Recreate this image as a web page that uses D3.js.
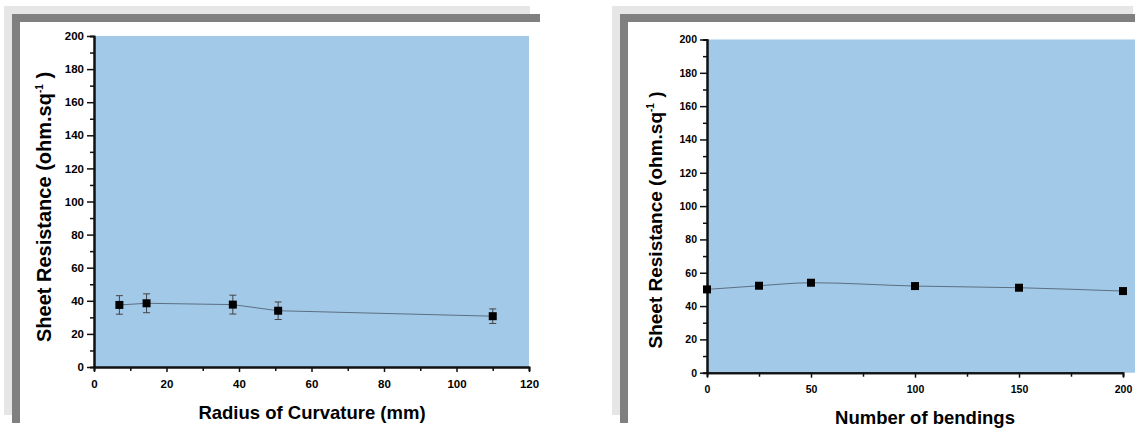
<html>
<head>
<script src="https://d3js.org/d3.v7.min.js"></script>
<style>
body{margin:0;background:#fff}
text{font-family:"Liberation Sans",Arial,sans-serif;font-weight:bold;fill:#000}
</style>
</head>
<body>
<script>
// left panel: radius of curvature
var radius = [7, 14.5, 38.3, 50.8, 110];
var resRadius = [37.5, 38.5, 37.7, 34, 30.7];
var errRadius = [5.6, 5.7, 5.7, 5.3, 4.4];

// right panel: number of bendings
var bendings = [0, 25, 50, 100, 150, 200];
var resBend = [50, 52.2, 54, 52, 51, 49];

var svg = d3.select('body').append('svg').attr('width', 1135).attr('height', 432);

function frame(x0, x1) {
  // light shadow then dark frame (top + left)
  svg.append('rect').attr('x', x0 - 8).attr('y', 6).attr('width', x1 - x0 + 6).attr('height', 8).attr('fill', '#e6e6e6');
  svg.append('rect').attr('x', x0 - 8).attr('y', 6).attr('width', 8).attr('height', 409).attr('fill', '#e6e6e6');
  svg.append('rect').attr('x', x0).attr('y', 14).attr('width', x1 - x0 + 8).attr('height', 8).attr('fill', '#808080');
  svg.append('rect').attr('x', x0).attr('y', 14).attr('width', 8).attr('height', 409).attr('fill', '#808080');
}

function panel(o) {
  var x = d3.scaleLinear().domain(o.xdom).range([o.left, o.right]);
  var y = d3.scaleLinear().domain([0, 200]).range([o.bottom, o.top]);

  svg.append('rect').attr('x', o.left).attr('y', o.top)
    .attr('width', o.fillRight - o.left).attr('height', o.bottom - o.top).attr('fill', '#a3c9e9');

  // minor ticks
  var gy = svg.append('g').attr('transform', 'translate(' + o.left + ',0)');
  gy.call(d3.axisLeft(y).tickValues(d3.range(10, 200, 20)).tickSize(4).tickFormat(''));
  var gy2 = svg.append('g').attr('transform', 'translate(' + o.left + ',0)');
  gy2.call(d3.axisLeft(y).tickValues(d3.range(0, 201, 20)).tickSize(7).tickPadding(3).tickSizeOuter(0));
  gy2.selectAll('text').style('font-size', o.fs + 'px');

  var gx = svg.append('g').attr('transform', 'translate(0,' + o.bottom + ')');
  gx.call(d3.axisBottom(x).tickValues(o.xminor).tickSize(4).tickFormat(''));
  var gx2 = svg.append('g').attr('transform', 'translate(0,' + o.bottom + ')');
  gx2.call(d3.axisBottom(x).tickValues(o.xmajor).tickSize(5).tickPadding(8).tickSizeOuter(0));
  gx2.selectAll('text').style('font-size', o.fs + 'px');

  svg.selectAll('.domain').attr('stroke', '#111').attr('stroke-width', 2);
  svg.selectAll('.tick line').attr('stroke', '#111').attr('stroke-width', 1.5);

  var pts = o.xs.map(function (v, i) { return [v, o.ys[i]]; });
  svg.append('path').datum(pts)
    .attr('d', d3.line().x(function (d) { return x(d[0]); }).y(function (d) { return y(d[1]); }).curve(o.curve))
    .attr('fill', 'none').attr('stroke', '#5b6f82').attr('stroke-width', 1);

  if (o.err) {
    var eb = svg.append('g').attr('stroke', '#444').attr('stroke-width', 1);
    pts.forEach(function (d, i) {
      var cx = x(d[0]), lo = y(d[1] - o.err[i]), hi = y(d[1] + o.err[i]);
      eb.append('line').attr('x1', cx).attr('x2', cx).attr('y1', lo).attr('y2', hi);
      eb.append('line').attr('x1', cx - 3.5).attr('x2', cx + 3.5).attr('y1', lo).attr('y2', lo);
      eb.append('line').attr('x1', cx - 3.5).attr('x2', cx + 3.5).attr('y1', hi).attr('y2', hi);
    });
  }

  svg.append('g').selectAll('rect').data(pts).enter().append('rect')
    .attr('x', function (d) { return x(d[0]) - 4; })
    .attr('y', function (d) { return y(d[1]) - 4; })
    .attr('width', 8).attr('height', 8).attr('fill', '#000');

  svg.append('text').attr('x', o.xtx).attr('y', o.xty).attr('text-anchor', 'middle')
    .style('font-size', o.xfs + 'px').text(o.xtitle);

  var yt = svg.append('text').attr('transform', 'translate(' + o.ytx + ',' + o.yty + ') rotate(-90)')
    .attr('text-anchor', 'middle').style('font-size', o.yfs + 'px');
  yt.append('tspan').text('Sheet Resistance (ohm.sq');
  yt.append('tspan').attr('dy', -8).style('font-size', '10px').text('-1');
  yt.append('tspan').attr('dy', 8).text(' )');
}

frame(12, 532);
frame(620, 1135);

panel({
  xdom: [0, 120], left: 94, right: 529, fillRight: 529, top: 36, bottom: 367,
  xmajor: d3.range(0, 121, 20), xminor: d3.range(10, 120, 20), fs: 11.5,
  xs: radius, ys: resRadius, err: errRadius, curve: d3.curveLinear,
  xtitle: 'Radius of Curvature (mm)', xtx: 312, xty: 419, xfs: 18.5,
  ytx: 51, yty: 207, yfs: 20
});

panel({
  xdom: [0, 200], left: 707, right: 1123, fillRight: 1135, top: 39.5, bottom: 372.7,
  xmajor: d3.range(0, 201, 50), xminor: d3.range(25, 200, 50), fs: 10.5,
  xs: bendings, ys: resBend, err: null, curve: d3.curveMonotoneX,
  xtitle: 'Number of bendings', xtx: 925, xty: 424, xfs: 18.5,
  ytx: 662, yty: 220, yfs: 19
});
</script>
</body>
</html>
